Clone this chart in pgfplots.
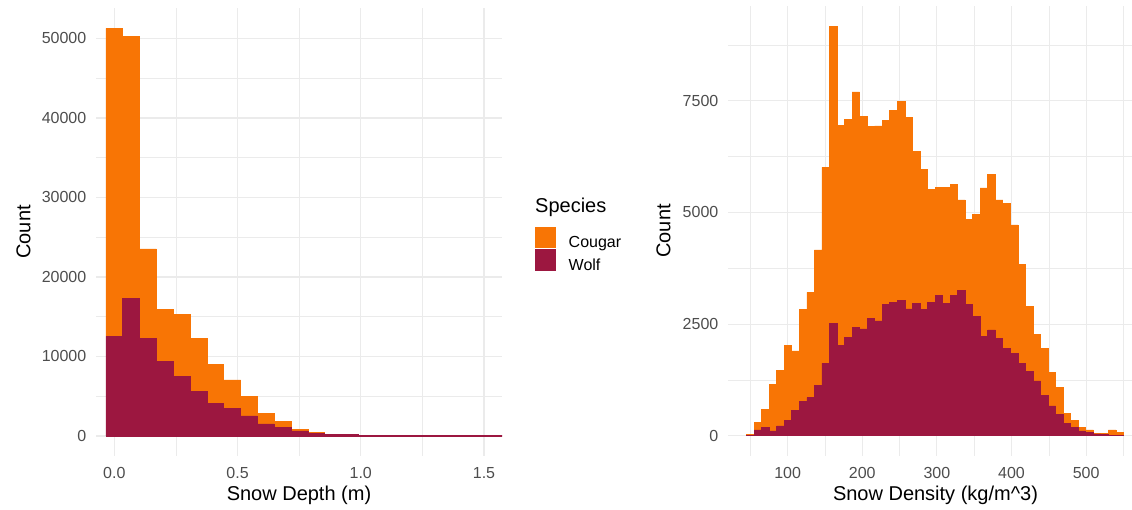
\documentclass[border=0pt]{standalone}
\usepackage{pgfplots}
\usepackage{pgfplotstable}
\pgfplotsset{compat=1.18}
\usepackage{fontspec}
\setmainfont{Liberation Sans}
\definecolor{cougarc}{HTML}{F87505}
\definecolor{wolfc}{HTML}{9C1740}
\definecolor{gridc}{HTML}{EBEBEB}
\definecolor{tickc}{HTML}{4D4D4D}

\pgfplotstableread{
x wolf cougar
0.0000 12520 38740
0.0683 17350 32900
0.1366 12310 11220
0.2049 9370 6510
0.2732 7480 7860
0.3415 5590 6640
0.4098 4120 4910
0.4781 3490 3570
0.5464 2520 2440
0.6147 1510 1350
0.6830 1050 800
0.7513 630 210
0.8196 340 80
0.8879 200 50
0.9562 180 30
1.0245 60 0
1.0928 60 0
1.1611 60 0
1.2294 60 0
1.2977 60 0
1.3660 60 0
1.4343 60 0
1.5026 60 0
1.5709 60 0
}\depthdata

\pgfplotstableread{
x wolf cougar
50.0 10 20
60.1 130 160
70.2 180 410
80.3 105 1035
90.4 220 1250
100.5 340 1690
110.6 575 1325
120.7 760 2070
130.8 850 2360
140.9 1120 3040
151.0 1620 4390
161.1 2520 6650
171.2 2030 4920
181.3 2200 4880
191.4 2420 5280
201.5 2390 4760
211.6 2620 4310
221.7 2570 4370
231.8 2945 4115
241.9 2990 4290
252.0 3030 4460
262.1 2840 4280
272.2 2970 3400
282.3 2820 3140
292.4 2990 2520
302.5 3150 2410
312.6 2970 2590
322.7 3150 2470
332.8 3250 2030
342.9 2945 1895
353.0 2670 2280
363.1 2220 3330
373.2 2370 3490
383.3 2180 3100
393.4 1960 3250
403.5 1850 2870
413.6 1620 2210
423.7 1435 1455
433.8 1225 1035
443.9 900 1060
454.0 665 745
464.1 480 600
474.2 275 225
484.3 180 160
494.4 105 85
504.5 65 65
514.6 40 10
524.7 30 20
534.8 15 115
544.9 15 60
}\densitydata

\pgfplotsset{
  histaxis/.style={
    scale only axis,
    ybar stacked,
    bar shift=0pt,
    scaled x ticks=false,
    scaled y ticks=false,
    axis line style={draw=none},
    major tick length=0pt,
    minor tick length=0pt,
    tick style={draw=none},
    grid=both,
    major grid style={draw=gridc, line width=1.1pt},
    minor grid style={draw=gridc, line width=0.55pt},
    tick label style={font=\fontsize{16}{19}\selectfont, text=tickc},
    xticklabel style={anchor=north, inner sep=0pt, yshift=-11pt},
    yticklabel style={anchor=east, inner sep=0pt, xshift=-9.5pt},
    clip=true,
  },
  wolfbar/.style={fill=wolfc, draw=wolfc, line width=0.7pt},
  cougarbar/.style={fill=cougarc, draw=cougarc, line width=0.7pt},
}

\begin{document}
\begin{tikzpicture}
\useasboundingbox (0pt,0pt) rectangle (1132pt,510pt);

\begin{axis}[
  histaxis,
  at={(96pt,54pt)}, anchor=south west,
  width=406pt, height=448pt,
  xmin=-0.0742, xmax=1.573,
  ymin=-2516, ymax=53836,
  bar width=0.0683,
  xtick={0,0.5,1,1.5},
  xticklabels={0.0,0.5,1.0,1.5},
  minor xtick={0.25,0.75,1.25},
  ytick={0,10000,20000,30000,40000,50000},
  yticklabels={0,10000,20000,30000,40000,50000},
  minor ytick={5000,15000,25000,35000,45000},
  xlabel={Snow Depth (m)},
  ylabel={Count},
  every axis x label/.style={at={(axis description cs:0.5,-0.0871)}, anchor=center, font=\fontsize{20}{24}\selectfont, text=black},
  every axis y label/.style={at={(axis description cs:-0.1786,0.5)}, rotate=90, anchor=center, font=\fontsize{20}{24}\selectfont, text=black},
  legend style={
    at={(axis description cs:1.0813,0.5112)}, anchor=north west,
    draw=none, fill=none, inner sep=0pt, outer sep=0pt,
    font=\fontsize{16}{19}\selectfont,
    row sep=0pt,
    nodes={inner sep=0pt},
    /tikz/every odd column/.append style={column sep=13pt},
  },
  legend cell align=left,
  reverse legend,
  legend image code/.code={\fill[#1] (0pt,-5pt) rectangle (20pt,15.5pt);},
]
\addplot[wolfbar] table[x=x, y=wolf] {\depthdata};
\addplot[cougarbar] table[x=x, y=cougar] {\depthdata};
\legend{Wolf,Cougar}
\end{axis}

\node[anchor=base west, inner sep=0pt, font=\fontsize{20}{24}\selectfont] at (535pt,297.5pt) {Species};

\begin{axis}[
  histaxis,
  at={(728pt,54pt)}, anchor=south west,
  width=404pt, height=450pt,
  xmin=20, xmax=561.5,
  ymin=-455, ymax=9625,
  bar width=10.1,
  xtick={100,200,300,400,500},
  xticklabels={100,200,300,400,500},
  minor xtick={50,150,250,350,450,550},
  ytick={0,2500,5000,7500},
  yticklabels={0,2500,5000,7500},
  minor ytick={1250,3750,6250,8750},
  xlabel={Snow Density (kg/m\^{}3)},
  ylabel={Count},
  every axis x label/.style={at={(axis description cs:0.5136,-0.0867)}, anchor=center, font=\fontsize{20}{24}\selectfont, text=black},
  every axis y label/.style={at={(axis description cs:-0.1597,0.5)}, rotate=90, anchor=center, font=\fontsize{20}{24}\selectfont, text=black},
]
\addplot[wolfbar] table[x=x, y=wolf] {\densitydata};
\addplot[cougarbar] table[x=x, y=cougar] {\densitydata};
\end{axis}
\end{tikzpicture}
\end{document}
